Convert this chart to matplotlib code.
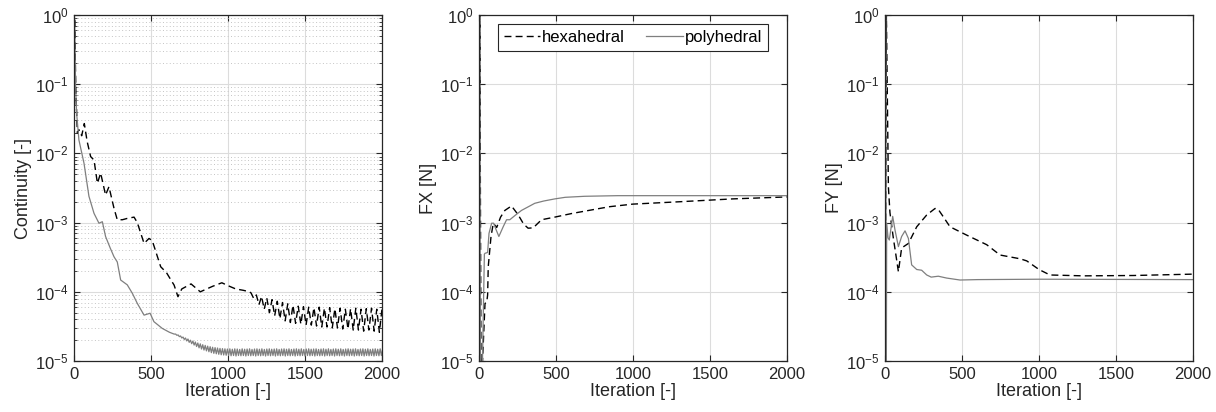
import numpy as np
import matplotlib.pyplot as plt
from matplotlib.ticker import LogLocator, NullFormatter

plt.rcParams['font.family'] = ['Liberation Sans', 'DejaVu Sans']
plt.rcParams['mathtext.fontset'] = 'custom'
plt.rcParams['mathtext.rm'] = 'Liberation Sans'

# ---- Continuity residual ----
cont_hex_it = [0, 4, 12, 22, 32, 50, 67, 85, 108, 130, 152, 173, 205, 227, 260, 281, 314, 346,
               390, 411, 455, 487, 508, 563, 600, 628, 650, 675, 700, 760, 820, 900, 960, 1010,
               1050, 1100, 1140]
cont_hex_val = [5e-2, 0.9, 8e-2, 1.95e-2, 2.2e-2, 1.8e-2, 2.7e-2, 1.5e-2, 9e-3, 8e-3, 3.7e-3,
                5.2e-3, 2.5e-3, 3.3e-3, 1.6e-3, 1.1e-3, 1.1e-3, 1.15e-3, 1.2e-3, 1.0e-3, 5e-4,
                5.9e-4, 5.5e-4, 2.3e-4, 1.9e-4, 1.5e-4, 1.25e-4, 8.5e-5, 1.1e-4, 1.3e-4, 1.0e-4,
                1.2e-4, 1.35e-4, 1.2e-4, 1.1e-4, 1.05e-4, 1.0e-4]
# oscillating tail from 1150: (peak, trough) per cycle of 34 iterations, units of 1e-5
cont_hex_tail = [(9.6, 8.0), (9.0, 6.5), (8.6, 5.6), (8.1, 5.0), (7.7, 4.5), (7.3, 4.1),
                 (7.0, 3.8), (6.7, 3.6), (6.4, 3.5), (6.2, 3.4), (6.1, 3.3), (6.0, 3.3),
                 (5.9, 3.2), (6.0, 3.1), (5.8, 3.1), (5.9, 3.0), (5.7, 3.0), (5.8, 2.9),
                 (5.6, 2.9), (5.7, 2.8), (5.8, 2.8), (5.6, 2.7), (5.7, 2.8), (5.8, 2.7),
                 (5.6, 2.6), (5.7, 3.0)]

cont_poly_it = [0, 4, 10, 17, 32, 65, 97, 130, 162, 184, 205, 235, 260, 281, 303, 346, 379,
                411, 455, 494, 519, 573, 620, 650]
cont_poly_val = [5e-2, 0.9, 0.1, 3.8e-2, 1.56e-2, 7.2e-3, 2.4e-3, 1.36e-3, 9.8e-4, 1.03e-3,
                 6.3e-4, 4.3e-4, 3.2e-4, 2.7e-4, 1.48e-4, 1.26e-4, 9.5e-5, 6.8e-5, 4.6e-5,
                 4.9e-5, 3.7e-5, 2.96e-5, 2.6e-5, 2.45e-5]
# oscillating tail from 660: (peak, trough) per cycle of 16 iterations, units of 1e-5
cont_poly_tail = [(2.45, 2.35), (2.38, 2.25), (2.3, 2.15), (2.22, 2.05), (2.15, 1.95),
                  (2.08, 1.86), (2.0, 1.78), (1.94, 1.7), (1.88, 1.62), (1.82, 1.55),
                  (1.77, 1.49), (1.72, 1.44), (1.68, 1.4), (1.64, 1.36), (1.61, 1.32),
                  (1.58, 1.29), (1.56, 1.27), (1.54, 1.25), (1.52, 1.23), (1.51, 1.22),
                  (1.5, 1.21), (1.49, 1.2), (1.5, 1.19), (1.48, 1.2), (1.5, 1.18), (1.49, 1.2),
                  (1.47, 1.19), (1.5, 1.2), (1.48, 1.18), (1.49, 1.2), (1.5, 1.19), (1.47, 1.2),
                  (1.49, 1.18), (1.5, 1.2), (1.48, 1.19), (1.5, 1.2), (1.47, 1.18), (1.49, 1.2),
                  (1.5, 1.19), (1.48, 1.2), (1.49, 1.18), (1.5, 1.2), (1.47, 1.19), (1.49, 1.2),
                  (1.5, 1.18), (1.48, 1.2), (1.5, 1.19), (1.47, 1.2), (1.49, 1.18), (1.5, 1.2),
                  (1.48, 1.19), (1.5, 1.2), (1.47, 1.18), (1.49, 1.2), (1.5, 1.19), (1.48, 1.2),
                  (1.49, 1.18), (1.5, 1.2), (1.47, 1.19), (1.49, 1.2), (1.5, 1.18), (1.48, 1.2),
                  (1.5, 1.19), (1.47, 1.2), (1.49, 1.18), (1.5, 1.2), (1.48, 1.19), (1.5, 1.2),
                  (1.47, 1.18), (1.49, 1.2), (1.5, 1.19), (1.48, 1.2), (1.49, 1.18), (1.5, 1.2),
                  (1.47, 1.19), (1.49, 1.2), (1.5, 1.18), (1.48, 1.2), (1.5, 1.19), (1.47, 1.2),
                  (1.49, 1.18), (1.5, 1.2), (1.48, 1.19), (1.5, 1.2), (1.49, 1.19)]

# ---- FX ----
fx_hex_it = [0, 5, 14, 21, 39, 50, 56, 60, 78, 93, 115, 140, 168, 211, 254, 290, 319, 352, 406,
             492, 600, 783, 850, 999, 1300, 1646, 2000]
fx_hex_val = [2e-6, 1.0, 2e-6, 8e-6, 6.8e-5, 7e-5, 9e-5, 2.3e-4, 6.3e-4, 9.8e-4, 8.5e-4, 1.2e-3,
              1.5e-3, 1.74e-3, 1.3e-3, 9.5e-4, 8.3e-4, 8.4e-4, 1.1e-3, 1.2e-3, 1.35e-3, 1.6e-3,
              1.7e-3, 1.85e-3, 2.0e-3, 2.2e-3, 2.35e-3]
fx_poly_it = [0, 4, 10, 20, 28, 35, 39, 56, 65, 82, 95, 110, 129, 157, 179, 200, 240, 276, 362,
              420, 492, 560, 686, 900, 2000]
fx_poly_val = [2e-6, 1.0, 2e-6, 5e-6, 4.9e-5, 3.5e-4, 3.6e-4, 3.7e-4, 7e-4, 9.8e-4, 9.8e-4, 8e-4,
               6.3e-4, 8.7e-4, 1.1e-3, 1.1e-3, 1.3e-3, 1.5e-3, 1.9e-3, 2.05e-3, 2.2e-3, 2.32e-3,
               2.4e-3, 2.45e-3, 2.45e-3]

# ---- FY ----
fy_hex_it = [0, 9, 22, 32, 54, 70, 87, 108, 152, 206, 271, 325, 346, 380, 422, 530, 660, 747,
             877, 920, 1000, 1071, 1288, 1613, 2000]
fy_hex_val = [2e-6, 1.0, 3.3e-3, 1.4e-3, 6e-4, 3.5e-4, 1.95e-4, 4.3e-4, 5e-4, 8.7e-4, 1.29e-3,
              1.6e-3, 1.55e-3, 1.2e-3, 8.7e-4, 6.6e-4, 4.8e-4, 3.4e-4, 3.0e-4, 2.8e-4, 2.1e-4,
              1.75e-4, 1.7e-4, 1.72e-4, 1.8e-4]
fy_poly_it = [0, 4, 8, 11, 20, 28, 50, 65, 87, 108, 130, 152, 173, 206, 238, 271, 300, 346, 400,
              487, 600, 1000, 2000]
fy_poly_val = [2e-6, 1.0, 2e-6, 9.8e-4, 6e-4, 5.6e-4, 1.23e-3, 7.8e-4, 4.5e-4, 6.3e-4, 7.6e-4,
               5.9e-4, 2.45e-4, 2.1e-4, 2.05e-4, 1.75e-4, 1.63e-4, 1.68e-4, 1.58e-4, 1.48e-4,
               1.5e-4, 1.52e-4, 1.5e-4]

# assemble continuity series with the oscillating tails
ht = np.ravel(cont_hex_tail) * 1e-5
ch_x = np.concatenate([cont_hex_it, 1150 + 17 * np.arange(len(ht))])
ch_y = np.concatenate([cont_hex_val, ht])
pt = np.ravel(cont_poly_tail) * 1e-5
cp_x = np.concatenate([cont_poly_it, 660 + 8 * np.arange(len(pt))])
cp_y = np.concatenate([cont_poly_val, pt])

fig = plt.figure(figsize=(12.16, 4.12), dpi=100)
lefts = [74 / 1216, 479 / 1216, 885 / 1216]
w = 308 / 1216
b = 51 / 412
h = 346 / 412

panels = [
    (ch_x, ch_y, cp_x, cp_y, 'Continuity [-]'),
    (fx_hex_it, fx_hex_val, fx_poly_it, fx_poly_val, 'FX [N]'),
    (fy_hex_it, fy_hex_val, fy_poly_it, fy_poly_val, 'FY [N]'),
]

dark = '#262626'
for i, (hx, hy, px, py, ylab) in enumerate(panels):
    ax = fig.add_axes([lefts[i], b, w, h])
    ax.plot(hx, hy, '--', color='black', lw=1.0, dashes=(5, 3), label='hexahedral')
    ax.plot(px, py, '-', color='#7f7f7f', lw=0.9, label='polyhedral')
    ax.set_yscale('log')
    ax.set_xlim(0, 2000)
    ax.set_ylim(1e-5, 1)
    ax.set_xticks([0, 500, 1000, 1500, 2000])
    ax.yaxis.set_major_locator(LogLocator(base=10, numticks=10))
    ax.grid(True, which='major', color='#dcdcdc', lw=0.8)
    if i == 0:
        ax.yaxis.set_minor_locator(LogLocator(base=10, subs=np.arange(2, 10), numticks=20))
        ax.yaxis.set_minor_formatter(NullFormatter())
        ax.grid(True, which='minor', axis='y', color='#c4c4c4', lw=0.7, ls=(0, (1, 2.5)))
        ax.tick_params(which='minor', direction='in', length=2.5, right=True, color=dark)
    else:
        ax.yaxis.set_minor_locator(plt.NullLocator())
    ax.set_axisbelow(True)
    ax.tick_params(which='major', direction='in', length=4, top=True, right=True,
                   labelsize=12, colors=dark, pad=4)
    for s in ax.spines.values():
        s.set_color(dark)
        s.set_linewidth(0.9)
    ax.set_xlabel('Iteration [-]', fontsize=13, color=dark, labelpad=1)
    ax.set_ylabel(ylab, fontsize=13, color=dark, labelpad=2)
    if i == 1:
        leg = ax.legend(loc='upper center', ncol=2, fontsize=12, frameon=True, fancybox=False,
                        edgecolor=dark, framealpha=1, handlelength=2.2, handletextpad=0.1,
                        columnspacing=1.3, borderpad=0.35, borderaxespad=0,
                        bbox_to_anchor=(0.4995, 0.974))
        leg.get_frame().set_linewidth(0.8)

fig.savefig('out.png', dpi=100)
